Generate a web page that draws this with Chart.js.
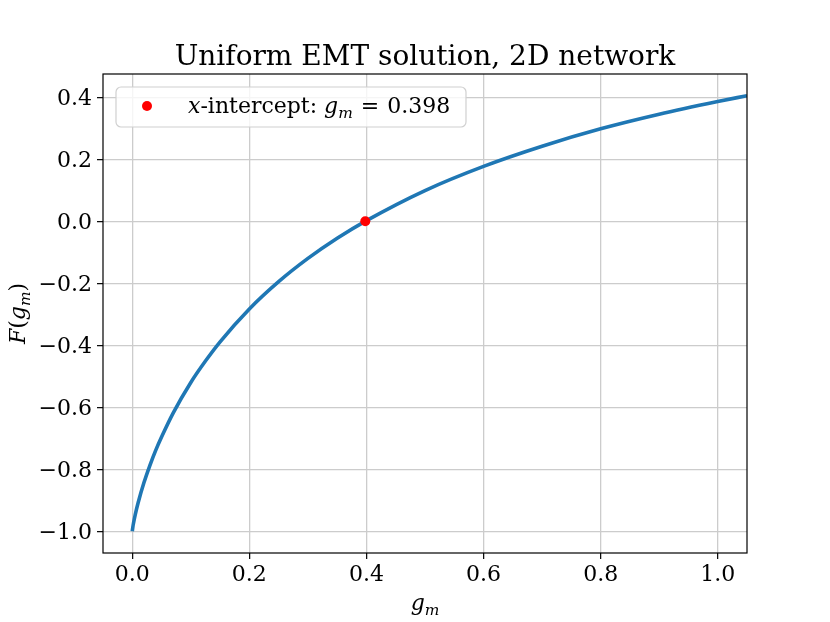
<!DOCTYPE html>
<html>
<head>
<meta charset="utf-8">
<script src="https://cdn.jsdelivr.net/npm/chart.js@4.4.1/dist/chart.umd.min.js"></script>
<style>
  body { margin: 0; background: #ffffff; }
  #wrap { width: 830px; height: 622px; }
</style>
</head>
<body>
<div id="wrap"><canvas id="emt_chart" width="830" height="622"></canvas></div>
<script>
// F(g_m)
var gm_values = [0, 0.001, 0.002, 0.005, 0.01, 0.02, 0.03, 0.04, 0.05, 0.07, 0.1, 0.125, 0.15,
                 0.2, 0.25, 0.3, 0.35, 0.4, 0.5, 0.6, 0.7, 0.8, 0.9, 1.0, 1.05];
var f_values = [-1, -0.986, -0.975, -0.947, -0.908, -0.843, -0.788, -0.739, -0.696, -0.618, -0.520, -0.451, -0.389,
                -0.283, -0.195, -0.120, -0.055, 0.002, 0.099, 0.177, 0.242, 0.298, 0.345, 0.386, 0.405];

// the x-intercept marker
var intercept_x = [0.398];
var intercept_y = [0];

var x_ticks = [0.0, 0.2, 0.4, 0.6, 0.8, 1.0];
var y_ticks = [-1.0, -0.8, -0.6, -0.4, -0.2, 0.0, 0.2, 0.4];

var titleText = 'Uniform EMT solution, 2D network';
var legendParts = [{t: 'x', it: true}, {t: '-intercept: '}, {t: 'g', it: true}, {t: 'm', it: true, sub: true},
                   {t: '', gap: 8}, {t: '='}, {t: '', gap: 8}, {t: '0.398'}];
var xLabelParts = [{t: 'g', it: true}, {t: 'm', it: true, sub: true}];
var yLabelParts = [{t: 'F', it: true}, {t: '('}, {t: 'g', it: true}, {t: 'm', it: true, sub: true}, {t: ')'}];

var SERIF = '"DejaVu Serif", serif';

function fmt(v)
{
	var s = Math.abs(v) < 1e-9 ? '0.0' : v.toFixed(1);
	return s.replace('-', '\u2212');
}

function partFont(p, size)
{
	var s = p.sub ? size * 0.7 : size;
	return (p.it ? 'italic ' : '') + s + 'px ' + SERIF;
}

function partWidth(ctx, p, size)
{
	ctx.font = partFont(p, size);
	return ctx.measureText(p.t).width + (p.gap || 0);
}

function partsWidth(ctx, parts, size)
{
	var w = 0;
	parts.forEach(function (p) { w += partWidth(ctx, p, size); });
	return w;
}

// draws mixed italic / subscript text from x along the baseline y
function drawParts(ctx, parts, x, y, size)
{
	ctx.textBaseline = 'alphabetic';
	ctx.textAlign = 'left';
	parts.forEach(function (p) {
		var w = partWidth(ctx, p, size);
		ctx.fillText(p.t, x, p.sub ? y + size * 0.22 : y);
		x += w;
	});
}

var decorPlugin = {
	id: 'decor',
	afterDraw: function (chart)
	{
		var ctx = chart.ctx;
		var a = chart.chartArea;
		ctx.save();
		ctx.fillStyle = '#000000';

		// frame
		ctx.strokeStyle = '#000000';
		ctx.lineWidth = 1.2;
		ctx.strokeRect(a.left, a.top, a.right - a.left, a.bottom - a.top);

		// title
		ctx.font = '28px ' + SERIF;
		ctx.textAlign = 'center';
		ctx.textBaseline = 'alphabetic';
		ctx.fillText(titleText, (a.left + a.right) / 2, a.top - 9);

		// x label
		var w = partsWidth(ctx, xLabelParts, 22);
		drawParts(ctx, xLabelParts, (a.left + a.right) / 2 - w / 2, a.bottom + 57, 22);

		// y label, rotated
		ctx.save();
		ctx.translate(25, (a.top + a.bottom) / 2);
		ctx.rotate(-Math.PI / 2);
		w = partsWidth(ctx, yLabelParts, 22);
		drawParts(ctx, yLabelParts, -w / 2, 0, 22);
		ctx.restore();

		// legend
		var lx = a.left + 13, ly = a.top + 13, lw = 350, lh = 40;
		ctx.beginPath();
		ctx.roundRect(lx, ly, lw, lh, 5);
		ctx.fillStyle = 'rgba(255,255,255,0.8)';
		ctx.fill();
		ctx.strokeStyle = '#d0d0d0';
		ctx.lineWidth = 1.2;
		ctx.stroke();
		ctx.fillStyle = '#ff0000';
		ctx.beginPath();
		ctx.arc(lx + 31, ly + lh / 2 - 1, 5, 0, Math.PI * 2);
		ctx.fill();
		ctx.fillStyle = '#000000';
		drawParts(ctx, legendParts, lx + 72, ly + 26, 22);

		ctx.restore();
	}
};

function start()
{
	var curve = gm_values.map(function (g, i) { return {x: g, y: f_values[i]}; });
	var dot = intercept_x.map(function (g, i) { return {x: g, y: intercept_y[i]}; });

	new Chart(document.getElementById('emt_chart').getContext('2d'), {
		type: 'scatter',
		data: {
			datasets: [{
				data: curve,
				showLine: true,
				borderColor: '#1f77b4',
				borderWidth: 3.6,
				pointRadius: 0,
				cubicInterpolationMode: 'monotone',
				order: 2
			}, {
				data: dot,
				pointRadius: 5,
				pointBackgroundColor: '#ff0000',
				pointBorderWidth: 0,
				order: 1
			}]
		},
		options: {
			responsive: false,
			animation: false,
			events: [],
			layout: { padding: {left: 0, right: 83, top: 74, bottom: 0} },
			plugins: { legend: {display: false}, tooltip: {enabled: false}, title: {display: false} },
			scales: {
				x: {
					type: 'linear',
					min: -0.05,
					max: 1.05,
					afterFit: function (s) { s.height = 69; },
					afterBuildTicks: function (s) { s.ticks = x_ticks.map(function (v) { return {value: v}; }); },
					border: {display: false},
					grid: {color: '#cccccc', lineWidth: 1.3, tickLength: 6, tickColor: '#000000', tickWidth: 1.2},
					ticks: {padding: 3, color: '#000000', font: {family: 'DejaVu Serif', size: 22}, maxRotation: 0,
						callback: function (v) { return fmt(v); }}
				},
				y: {
					type: 'linear',
					min: -1.0702,
					max: 0.4749,
					afterFit: function (s) { s.width = 103; },
					afterBuildTicks: function (s) { s.ticks = y_ticks.map(function (v) { return {value: v}; }); },
					border: {display: false},
					grid: {color: '#cccccc', lineWidth: 1.3, tickLength: 6, tickColor: '#000000', tickWidth: 1.2},
					ticks: {padding: 5, labelOffset: 2, color: '#000000', font: {family: 'DejaVu Serif', size: 22},
						callback: function (v) { return fmt(v); }}
				}
			}
		},
		plugins: [decorPlugin]
	});
}

start();
</script>
</body>
</html>
